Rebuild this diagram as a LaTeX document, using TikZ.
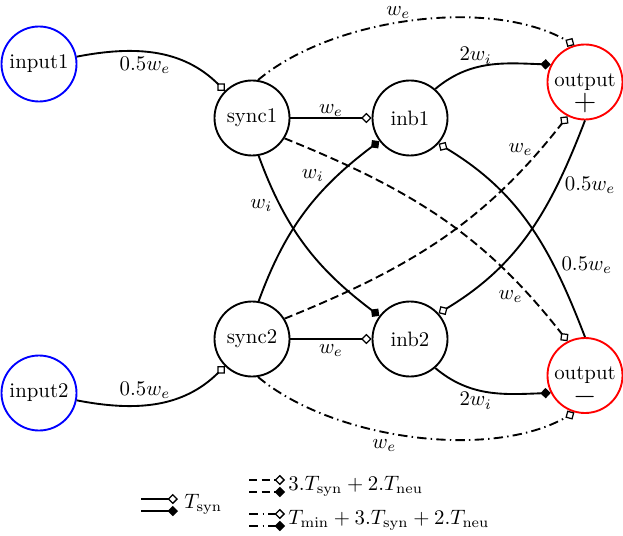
\documentclass[tikz,border=0pt]{standalone}
\usetikzlibrary{arrows.meta}
\begin{document}
\begin{tikzpicture}[x=0.48pt,y=0.48pt,
  neuron/.style={circle,draw,line width=0.9pt,minimum size=36pt,inner sep=0pt},
  inneuron/.style={neuron,draw=blue},
  outneuron/.style={neuron,draw=red},
  sign/.style={font=\Large,inner sep=0pt},
  conn/.style={line width=0.9pt},
  exc/.style={conn,-{Diamond[open,length=5pt,width=5pt,line width=0.6pt]}},
  inh/.style={conn,-{Diamond[length=5pt,width=5pt]}},
  dsh/.style={dash pattern=on 4pt off 2pt},
  dshdot/.style={dash pattern=on 4.5pt off 2pt on 0.7pt off 2pt},
  lab/.style={inner sep=3.3pt},
  keytext/.style={anchor=west,inner sep=0pt}
]
\useasboundingbox (0,0) rectangle (623,535);

% nodes
\node[inneuron] (input1) at (39,471) {input1};
\node[neuron] (sync1) at (252,417) {sync1};
\node[neuron] (inb1) at (410,417) {inb1};
\node[outneuron] (outp) at (585,453) {output};
\node[inneuron] (input2) at (39,142) {input2};
\node[neuron] (sync2) at (252,196) {sync2};
\node[neuron] (inb2) at (410,196) {inb2};
\node[outneuron] (outm) at (585,159.5) {output};
\node[sign] (outpsign) at ([yshift=-10.2pt]outp.center) {$+$};
\node[sign] (outmsign) at ([yshift=-10.2pt]outm.center) {$-$};

% connectors
\draw[exc] (input1) to[out=11,in=135] node[lab,below,inner sep=1.8pt,pos=0.42]{$0.5w_e$} (sync1);
\draw[exc] (input2) to[out=-11,in=-135] node[lab,above,inner sep=2.5pt,pos=0.42]{$0.5w_e$} (sync2);
\draw[exc] (sync1) -- node[lab,above,inner sep=0.3pt]{$w_e$} (inb1);
\draw[exc] (sync2) -- node[lab,below,inner sep=2pt]{$w_e$} (inb2);
\draw[exc,dshdot] (sync1.81) to[out=40,in=150,looseness=0.78] node[lab,above,inner sep=1.8pt,pos=0.46]{$w_e$} (outp.106);
\draw[exc,dshdot] (sync2.-81) to[out=-40,in=-150,looseness=0.78] node[lab,below,pos=0.42]{$w_e$} (outm.-106);
\draw[exc,dsh] (sync1.-32) to[out=-22,in=128] node[lab,left,pos=0.85]{$w_e$} (outm.117);
\draw[exc,dsh] (sync2.32) to[out=22,in=-128] node[lab,left,pos=0.89]{$w_e$} (outp.-117);
\draw[inh] (sync1.-80) to[out=-70,in=143] node[lab,left,pos=0.25]{$w_i$} (inb2);
\draw[inh] (sync2.80) to[out=70,in=-143] node[lab,left=3pt,pos=0.75]{$w_i$} (inb1);
\draw[inh] (inb1.49) to[out=40,in=178] node[lab,above,inner sep=1.3pt,pos=0.38]{$2w_i$} (outp.153);
\draw[inh] (inb2.-49) to[out=-40,in=-178] node[lab,below,inner sep=1pt,pos=0.38]{$2w_i$} (outm.-153);
\draw[exc] (outp.-90) to[out=-111,in=31] node[lab,right,pos=0.27]{$0.5w_e$} (inb2.42);
\draw[exc] (outm.90) to[out=111,in=-31] node[lab,right,pos=0.3]{$0.5w_e$} (inb1.-42);

% legend
\coordinate (ka1) at (141,36); \coordinate (kb1) at (178,36);
\coordinate (ka2) at (141,24); \coordinate (kb2) at (178,24);
\draw[exc] (ka1) -- (kb1);
\draw[inh] (ka2) -- (kb2);
\node[keytext] (kt1) at (184,30.5) {$T_{\mathrm{syn}}$};

\coordinate (kc1) at (249,55); \coordinate (kd1) at (285,55);
\coordinate (kc2) at (249,43); \coordinate (kd2) at (285,43);
\draw[exc,dsh] (kc1) -- (kd1);
\draw[inh,dsh] (kc2) -- (kd2);
\node[keytext] (kt2) at (288,49) {$3.T_{\mathrm{syn}}+2.T_{\mathrm{neu}}$};

\coordinate (ke1) at (249,21); \coordinate (kf1) at (285,21);
\coordinate (ke2) at (249,9); \coordinate (kf2) at (285,9);
\draw[exc,dshdot] (ke1) -- (kf1);
\draw[inh,dshdot] (ke2) -- (kf2);
\node[keytext] (kt3) at (288,15) {$T_{\mathrm{min}}+3.T_{\mathrm{syn}}+2.T_{\mathrm{neu}}$};
\end{tikzpicture}
\end{document}
